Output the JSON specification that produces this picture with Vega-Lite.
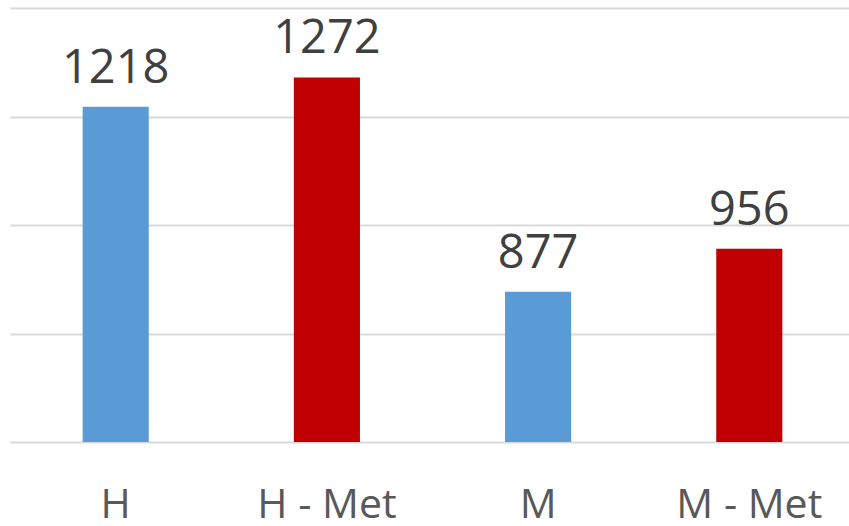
{
  "$schema": "https://vega.github.io/schema/vega-lite/v6.json",
  "autosize": {"type": "none"},
  "padding": {"left": 10, "top": 8, "right": 0, "bottom": 84},
  "width": 845,
  "height": 434,
  "background": "white",
  "config": {"view": {"stroke": null}},
  "data": {"values": [
    {"group": "H", "value": 1218, "type": "base"},
    {"group": "H - Met", "value": 1272, "type": "met"},
    {"group": "M", "value": 877, "type": "base"},
    {"group": "M - Met", "value": 956, "type": "met"}
  ]},
  "encoding": {
    "x": {"field": "group", "type": "nominal", "sort": null,
      "scale": {"paddingInner": 0.687, "paddingOuter": 0.344},
      "axis": {"title": null, "domain": false, "ticks": false, "tickSize": 0, "labelAngle": 0,
        "labelFont": "Open Sans", "labelFontSize": 41, "labelColor": "#595959",
        "labelPadding": 75, "labelBaseline": "alphabetic"}},
    "y": {"field": "value", "type": "quantitative",
      "scale": {"domain": [600, 1400], "zero": false, "nice": false},
      "axis": {"title": null, "labels": false, "ticks": false, "domain": false,
        "values": [600, 800, 1000, 1200, 1400],
        "grid": true, "gridColor": "#d9d9d9", "gridWidth": 2}}
  },
  "layer": [
    {"mark": {"type": "bar", "clip": true},
     "encoding": {
       "y2": {"datum": 600},
       "color": {"field": "type", "type": "nominal",
       "scale": {"domain": ["base", "met"], "range": ["#5b9bd5", "#c00000"]}, "legend": null}}},
    {"mark": {"type": "text", "baseline": "alphabetic", "dy": -24, "font": "Open Sans", "fontSize": 47, "color": "#404040"},
     "encoding": {"text": {"field": "value", "type": "quantitative"}}}
  ]
}
